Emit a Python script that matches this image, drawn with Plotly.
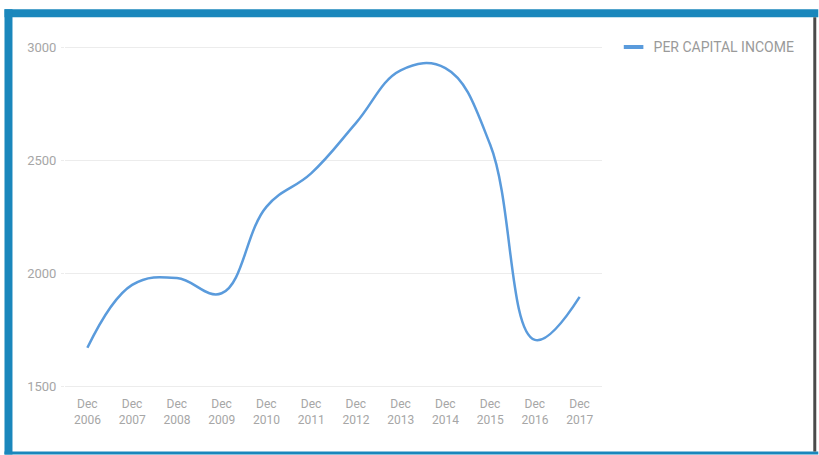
import plotly.graph_objects as go

# Series: per capita income, year-end readings
periods = ["Dec 2006", "Dec 2007", "Dec 2008", "Dec 2009", "Dec 2010", "Dec 2011",
           "Dec 2012", "Dec 2013", "Dec 2014", "Dec 2015", "Dec 2016", "Dec 2017"]
income = [1672, 1950, 1980, 1913, 2295, 2443, 2665, 2898, 2908, 2570, 1707, 1897]
tick_labels = [p.replace(" ", "<br>") for p in periods]
y_ticks = [1500, 2000, 2500, 3000]
series_name = "PER CAPITAL INCOME"

W, H = 819, 455
ML, MR, MT, MB = 64.6, 216.6, 44.7, 65.7
PW, PH = W - ML - MR, H - MT - MB

LINE = "#5a9bdc"
FRAME = "#1a87bc"
GRID = "#ececec"
TXT = "#a6a6a6"


def px_x(x):
    return (x - ML) / PW


def px_y(y):
    return (H - MB - y) / PH


fig = go.Figure()
fig.add_trace(go.Scatter(
    x=periods, y=income, mode="lines", name=series_name,
    line=dict(color=LINE, width=2.5, shape="spline", smoothing=1.15),
    showlegend=False, legendgroup="inc", hoverinfo="x+y",
))
# legend entry with a short dash symbol
fig.add_trace(go.Scatter(
    x=[None], y=[None], mode="markers", name=series_name, legendgroup="inc",
    marker=dict(symbol="line-ew", size=14, color=LINE, line=dict(color=LINE, width=4)),
))

# outer frame
frame_shapes = [
    (4, 9, 819, 17, FRAME),      # top band
    (4, 9, 12, 455, FRAME),      # left band
    (4, 452, 819, 455, FRAME),   # bottom band
    (814, 17, 817, 452, "#4a4a4a"),  # right edge
]
shapes = []
for x0, y0, x1, y1, c in frame_shapes:
    shapes.append(dict(type="rect", xref="paper", yref="paper",
                       x0=px_x(x0), x1=px_x(x1), y0=px_y(y1), y1=px_y(y0),
                       fillcolor=c, line=dict(width=0), layer="above"))

fig.update_layout(
    width=W, height=H,
    margin=dict(l=ML, r=MR, t=MT, b=MB, pad=0),
    paper_bgcolor="white", plot_bgcolor="white",
    font=dict(family="Roboto, Arial, sans-serif", color=TXT, size=12),
    shapes=shapes,
    showlegend=True,
    legend=dict(x=px_x(614), y=px_y(31), xanchor="left", yanchor="top",
                font=dict(size=14, color="#9a9a9a"), bgcolor="rgba(0,0,0,0)",
                itemwidth=30),
    xaxis=dict(
        type="category", tickmode="array", tickvals=periods, ticktext=tick_labels,
        showgrid=False, zeroline=False, showline=False, ticks="",
        tickfont=dict(size=12, color=TXT), range=[-0.5, 11.5],
        ticklabelstandoff=6,
    ),
    yaxis=dict(
        range=[1490, 3010], tickvals=y_ticks, ticktext=[str(v) for v in y_ticks],
        showgrid=True, gridcolor=GRID, gridwidth=1, zeroline=False, showline=False,
        ticks="outside", ticklen=3, tickcolor=GRID,
        tickfont=dict(size=13, color=TXT), ticklabelstandoff=2,
    ),
)

fig.write_html("out.html")
